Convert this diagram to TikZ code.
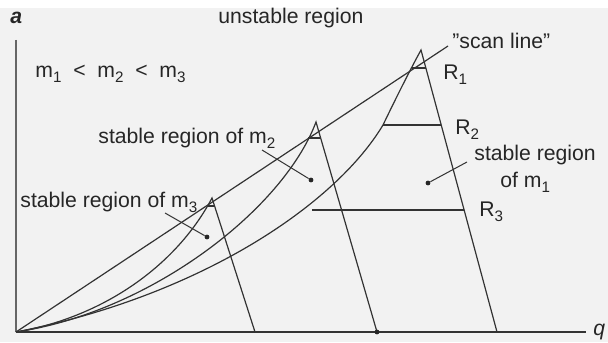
\documentclass[tikz,border=0pt]{standalone}
\usepackage{fontspec}
\setmainfont{Liberation Sans}
\newcommand{\lowsub}[1]{\raisebox{-0.5ex}{\fontsize{7.6}{8}\selectfont #1}}
\tikzset{
  yaxis/.style={draw=black!60, line width=0.9pt},
  xaxis/.style={draw=black!80, line width=1.3pt},
  curve/.style={draw=black!80, line width=0.6pt},
  bar/.style={draw=black!80, line width=1pt},
  leader/.style={draw=black!80, line width=0.5pt},
  lbl/.style={font=\fontsize{10.6}{12}\selectfont, text=black!85, inner sep=0pt, anchor=base west},
  pindot/.style={fill=black!85, circle, inner sep=0pt, minimum size=2.4pt},
}
\begin{document}
\begin{tikzpicture}[x=0.5pt, y=-0.5pt]
    \fill[black!5] (0,0) rectangle (608,342);
    \fill[white] (0,0) rectangle (608,8);
    \useasboundingbox (0,0) rectangle (608,342);

    % points of the diagram
    \coordinate (O)  at (16,332);
    \coordinate (A3) at (212,198);
    \coordinate (A2) at (316,122);
    \coordinate (A1) at (421,50);
    \coordinate (F3) at (255,332);
    \coordinate (F2) at (377,332);
    \coordinate (F1) at (497,332);
    \coordinate (S)  at (448,46);

    % axes
    \draw[yaxis] (16,40) -- (O);
    \draw[xaxis] (O) -- (586,332);
    \node[lbl, font=\fontsize{10.6}{12}\selectfont\bfseries\itshape] (qa) at (10,24) {a};
    \node[lbl, font=\fontsize{10.6}{12}\selectfont\itshape] (qq) at (593,335) {q};

    % boundaries of the stable regions
    \draw[curve] (O) .. controls (100,318) and (175,268) .. (A3) -- (F3);
    \draw[curve] (O) .. controls (150,312) and (283,210) .. (A2) -- (F2);
    \draw[curve] (O) .. controls (200,296) and (335,205) .. (383,125)
        .. controls (396,98) and (410,70) .. (A1) -- (F1);

    % scan line
    \draw[curve] (O) -- (S);

    % cross bars
    \draw[bar] (208,206) -- (215,206);
    \draw[bar] (308,138) -- (321,138);
    \draw[bar] (412,68) -- (426,68);
    \draw[bar] (383,125) -- (441,125);
    \draw[bar] (312,210) -- (464,210);
    \node[pindot] (d0) at (F2) {};

    % labels
    \node[lbl] (unst) at (218,24) {unstable region};
    \node[lbl] (order) at (35,77) {m\lowsub{1}\ \ {<}\ \ m\lowsub{2}\ \ {<}\ \ m\lowsub{3}};
    \node[lbl] (scan) at (452,48) {"scan line''};
    \node[lbl] (r1) at (443,79) {R\lowsub{1}};
    \node[lbl] (r2) at (455,134) {R\lowsub{2}};
    \node[lbl] (r3) at (479,216) {R\lowsub{3}};
    \node[lbl] (st2) at (98,143) {stable region of m\lowsub{2}};
    \node[lbl] (st3) at (20,207) {stable region of m\lowsub{3}};
    \node[lbl] (st1a) at (474,160) {stable region};
    \node[lbl] (st1b) at (500,187) {of m\lowsub{1}};

    % pointers into the regions
    \node[pindot] (d3) at (207,237) {};
    \node[pindot] (d2) at (311,180) {};
    \node[pindot] (d1) at (428,183) {};
    \coordinate (p3) at (165,213);
    \coordinate (p2) at (262,150);
    \coordinate (p1) at (467,162);
    \draw[leader] (p3) -- (d3);
    \draw[leader] (p2) -- (d2);
    \draw[leader] (p1) -- (d1);
\end{tikzpicture}
\end{document}
